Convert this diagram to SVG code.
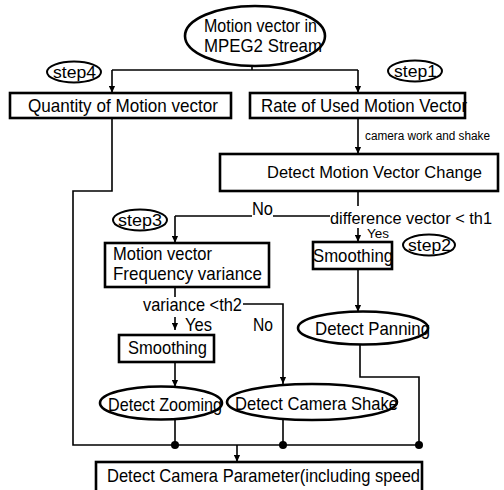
<svg xmlns="http://www.w3.org/2000/svg" width="504" height="490" viewBox="0 0 504 490">
<defs>
<marker id="arr" viewBox="0 0 8 8" refX="8" refY="4" markerWidth="7" markerHeight="7" markerUnits="userSpaceOnUse" orient="auto">
<path d="M0,0.5 L8,4 L0,7.5 Z" fill="#000"/>
</marker>
</defs>
<style>
text{font-family:"Liberation Sans",Arial,sans-serif;fill:#000}
.t{font-size:19px}
.m{font-size:17.2px}
.s{font-size:17px}
.y{font-size:12px}
.box{fill:#fff;stroke:#000;stroke-width:2.6}
.ell{fill:#fff;stroke:#000;stroke-width:2.6}
.sel{fill:#fff;stroke:#000;stroke-width:2}
.ln{fill:none;stroke:#000;stroke-width:1.6}
.dot{fill:#000}
</style>
<rect width="504" height="490" fill="#fff"/>

<g id="connectors">
<path class="ln" d="M252,66 V70"/>
<path class="ln" d="M112,70 H358"/>
<path class="ln" d="M112,70 V93" marker-end="url(#arr)"/>
<path class="ln" d="M358,70 V93" marker-end="url(#arr)"/>
<path class="ln" d="M112,118 V191 H73 V445 H419"/>
<path class="ln" d="M358,118 V154" marker-end="url(#arr)"/>
<path class="ln" d="M358,191 V206"/>
<path class="ln" d="M330,216 H273 M252,216 H175"/>
<path class="ln" d="M175,216 V243" marker-end="url(#arr)"/>
<path class="ln" d="M358,228 V242" marker-end="url(#arr)"/>
<path class="ln" d="M358,269 V312" marker-end="url(#arr)"/>
<path class="ln" d="M360,345 V377 H419 V445"/>
<path class="ln" d="M175,287 V297"/>
<path class="ln" d="M243,304 H283 V384" marker-end="url(#arr)"/>
<path class="ln" d="M175,317 V330" marker-end="url(#arr)"/>
<path class="ln" d="M175,362 V387" marker-end="url(#arr)"/>
<path class="ln" d="M175,420 V445"/>
<path class="ln" d="M283,420 V445"/>
<path class="ln" d="M237,445 V462" marker-end="url(#arr)"/>
<circle class="dot" cx="175" cy="445" r="4"/>
<circle class="dot" cx="283" cy="445" r="4"/>
<circle class="dot" cx="419" cy="445" r="4"/>
</g>

<g id="source">
<ellipse class="ell" cx="255" cy="36" rx="70" ry="30"/>
<text class="t" x="204" y="32" textLength="113" lengthAdjust="spacingAndGlyphs">Motion vector in</text>
<text class="t" x="204" y="52" textLength="118" lengthAdjust="spacingAndGlyphs">MPEG2 Stream</text>
</g>

<g id="step4">
<ellipse class="sel" cx="74" cy="72" rx="27" ry="10.5"/>
<text class="s" x="53" y="78" textLength="43" lengthAdjust="spacingAndGlyphs">step4</text>
</g>
<g id="step1">
<ellipse class="sel" cx="415" cy="71" rx="27" ry="10.5"/>
<text class="s" x="394" y="77" textLength="43" lengthAdjust="spacingAndGlyphs">step1</text>
</g>

<g id="quantity">
<rect class="box" x="10" y="93" width="221" height="25"/>
<text class="t" x="28" y="112" textLength="190" lengthAdjust="spacingAndGlyphs">Quantity of Motion vector</text>
</g>

<g id="rate">
<rect class="box" x="250" y="93" width="215" height="25"/>
<text class="t" x="261" y="112" textLength="206" lengthAdjust="spacingAndGlyphs">Rate of Used Motion Vector</text>
<text class="y" x="365" y="140" textLength="125" lengthAdjust="spacingAndGlyphs">camera work and shake</text>
</g>

<g id="detect-change">
<rect class="box" x="220" y="154" width="278" height="37"/>
<text class="m" x="267" y="178" textLength="215" lengthAdjust="spacingAndGlyphs">Detect Motion Vector Change</text>
</g>

<g id="decision1">
<text class="m" x="330" y="224" textLength="162" lengthAdjust="spacingAndGlyphs">difference vector &lt; th1</text>
<text class="t" x="252" y="215" textLength="21" lengthAdjust="spacingAndGlyphs">No</text>
<text class="y" x="367" y="238" textLength="22" lengthAdjust="spacingAndGlyphs">Yes</text>
</g>

<g id="step3">
<ellipse class="sel" cx="140" cy="220" rx="27" ry="10.5"/>
<text class="s" x="118" y="226" textLength="44" lengthAdjust="spacingAndGlyphs">step3</text>
</g>

<g id="step2">
<ellipse class="sel" cx="429" cy="245" rx="26" ry="10.5"/>
<text class="s" x="408" y="251" textLength="43" lengthAdjust="spacingAndGlyphs">step2</text>
</g>

<g id="variance-box">
<rect class="box" x="105" y="243" width="164" height="44"/>
<text class="t" x="113" y="260" textLength="99" lengthAdjust="spacingAndGlyphs">Motion vector</text>
<text class="t" x="113" y="280" textLength="149" lengthAdjust="spacingAndGlyphs">Frequency  variance</text>
</g>

<g id="smoothing-right">
<rect class="box" x="313" y="242" width="79" height="27"/>
<text class="t" x="313" y="262" textLength="80" lengthAdjust="spacingAndGlyphs">Smoothing</text>
</g>

<g id="decision2">
<text class="t" x="143" y="311" textLength="99" lengthAdjust="spacingAndGlyphs">variance &lt;th2</text>
<text class="t" x="185" y="331" textLength="27" lengthAdjust="spacingAndGlyphs">Yes</text>
<text class="t" x="253" y="331" textLength="20" lengthAdjust="spacingAndGlyphs">No</text>
</g>

<g id="detect-panning">
<ellipse class="ell" cx="363" cy="328" rx="65" ry="16.5"/>
<text class="t" x="315" y="335" textLength="115" lengthAdjust="spacingAndGlyphs">Detect Panning</text>
</g>

<g id="smoothing-left">
<rect class="box" x="119" y="335" width="95" height="27"/>
<text class="t" x="128" y="354" textLength="79" lengthAdjust="spacingAndGlyphs">Smoothing</text>
</g>

<g id="detect-zooming">
<ellipse class="ell" cx="161" cy="403" rx="61" ry="16.5"/>
<text class="t" x="108" y="411" textLength="114" lengthAdjust="spacingAndGlyphs">Detect Zooming</text>
</g>

<g id="detect-shake">
<ellipse class="ell" cx="312" cy="402" rx="85" ry="18"/>
<text class="t" x="235" y="410" textLength="163" lengthAdjust="spacingAndGlyphs">Detect Camera Shake</text>
</g>

<g id="camera-parameter">
<rect class="box" x="96" y="462" width="326" height="34"/>
<text class="t" x="107" y="482" textLength="313" lengthAdjust="spacingAndGlyphs">Detect Camera Parameter(including speed</text>
</g>
</svg>
